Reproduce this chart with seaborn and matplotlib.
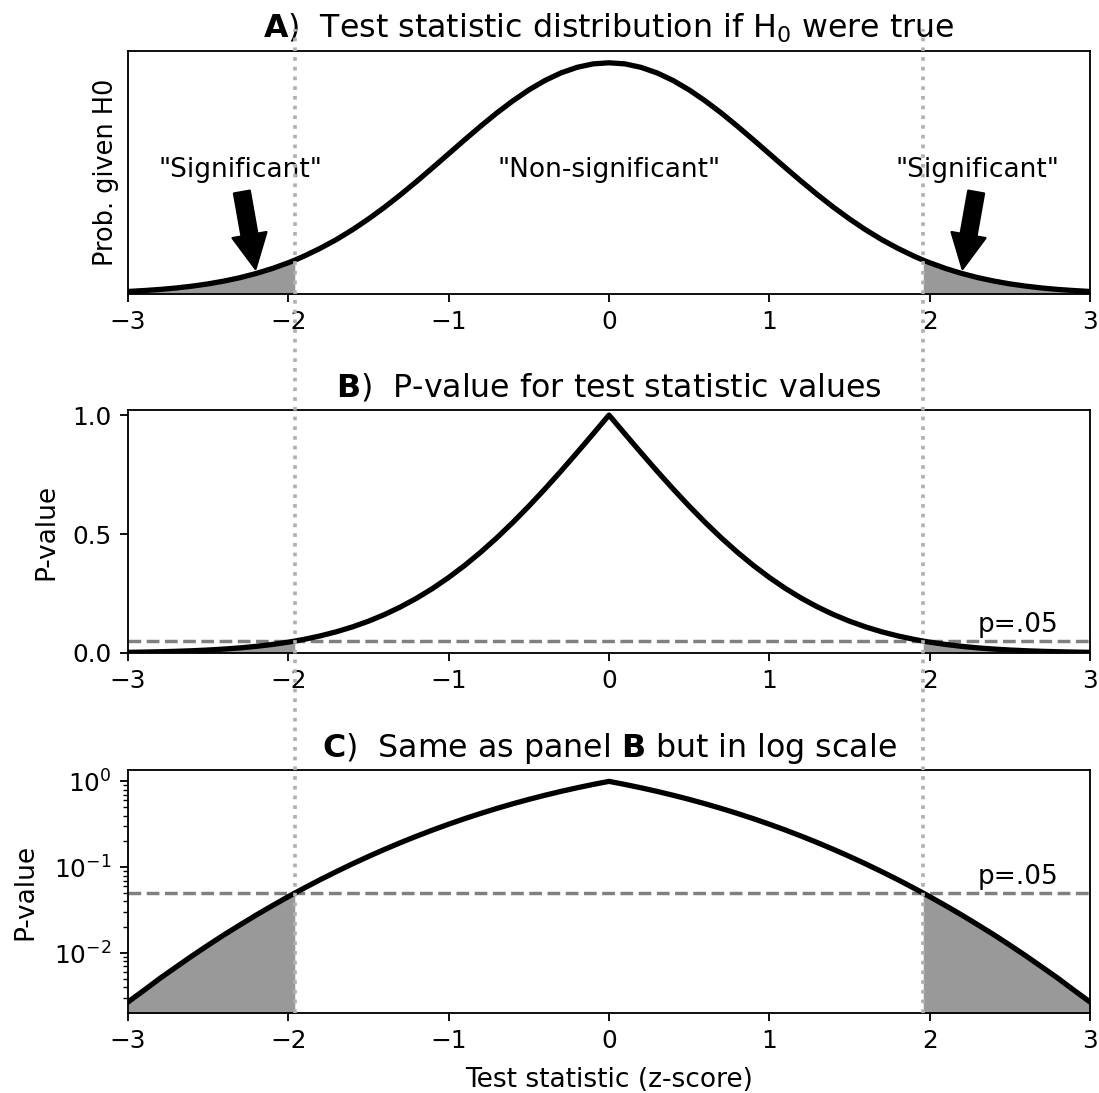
import matplotlib
matplotlib.use("Agg")
import matplotlib.pyplot as plt
import matplotlib.transforms as mtransforms
from matplotlib.lines import Line2D
import seaborn as sns
import pandas as pd
import numpy as np

# ---------------- data ----------------
z_values = [-3.0, -2.9, -2.8, -2.7, -2.6, -2.5, -2.4, -2.3, -2.2, -2.1, -2.0, -1.96,
            -1.9, -1.8, -1.7, -1.6, -1.5, -1.4, -1.3, -1.2, -1.1, -1.0,
            -0.9, -0.8, -0.7, -0.6, -0.5, -0.4, -0.3, -0.2, -0.1, 0.0,
            0.1, 0.2, 0.3, 0.4, 0.5, 0.6, 0.7, 0.8, 0.9, 1.0,
            1.1, 1.2, 1.3, 1.4, 1.5, 1.6, 1.7, 1.8, 1.9, 1.96,
            2.0, 2.1, 2.2, 2.3, 2.4, 2.5, 2.6, 2.7, 2.8, 2.9, 3.0]

density_h0 = [0.0044, 0.0060, 0.0079, 0.0104, 0.0136, 0.0175, 0.0224, 0.0283, 0.0355, 0.0440, 0.0540, 0.0584,
              0.0656, 0.0790, 0.0940, 0.1109, 0.1295, 0.1497, 0.1714, 0.1942, 0.2179, 0.2420,
              0.2661, 0.2897, 0.3123, 0.3332, 0.3521, 0.3683, 0.3814, 0.3910, 0.3970, 0.3989,
              0.3970, 0.3910, 0.3814, 0.3683, 0.3521, 0.3332, 0.3123, 0.2897, 0.2661, 0.2420,
              0.2179, 0.1942, 0.1714, 0.1497, 0.1295, 0.1109, 0.0940, 0.0790, 0.0656, 0.0584,
              0.0540, 0.0440, 0.0355, 0.0283, 0.0224, 0.0175, 0.0136, 0.0104, 0.0079, 0.0060, 0.0044]

p_values = [0.0027, 0.0037, 0.0051, 0.0069, 0.0093, 0.0124, 0.0164, 0.0214, 0.0278, 0.0357, 0.0455, 0.0500,
            0.0574, 0.0719, 0.0891, 0.1096, 0.1336, 0.1615, 0.1936, 0.2301, 0.2713, 0.3173,
            0.3681, 0.4237, 0.4839, 0.5485, 0.6171, 0.6892, 0.7642, 0.8415, 0.9203, 1.0000,
            0.9203, 0.8415, 0.7642, 0.6892, 0.6171, 0.5485, 0.4839, 0.4237, 0.3681, 0.3173,
            0.2713, 0.2301, 0.1936, 0.1615, 0.1336, 0.1096, 0.0891, 0.0719, 0.0574, 0.0500,
            0.0455, 0.0357, 0.0278, 0.0214, 0.0164, 0.0124, 0.0093, 0.0069, 0.0051, 0.0037, 0.0027]

critical_z = 1.96
alpha = 0.05
arrow_z = [-2.2, 2.2]
x_ticks = [-3, -2, -1, 0, 1, 2, 3]

df = pd.DataFrame({"z": z_values, "pdf": density_h0, "p": p_values})
z = df["z"].to_numpy()
left = z <= -critical_z + 1e-9
right = z >= critical_z - 1e-9

# ---------------- figure ----------------
DPI = 165
plt.rcParams["xtick.labelsize"] = 10.8
plt.rcParams["ytick.labelsize"] = 10.8
fig = plt.figure(figsize=(1099 / DPI, 1093 / DPI), dpi=DPI)
fig.patch.set_facecolor("white")

L, W, H = 0.1165, 0.8753, 0.222
axA = fig.add_axes([L, 0.731, W, H])
axB = fig.add_axes([L, 0.4026, W, H])
axC = fig.add_axes([L, 0.0732, W, H])

curve_kw = dict(color="black", linewidth=2.3)
fill_color = "#999999"
title_fs = 13.8
label_fs = 11.5
note_fs = 11.5

# ---- Panel A ----
for m in (left, right):
    axA.fill_between(z[m], 0, df["pdf"].to_numpy()[m], color=fill_color, linewidth=0, zorder=1)
sns.lineplot(data=df, x="z", y="pdf", ax=axA, zorder=3, **curve_kw)
axA.set_xlim(-3, 3)
axA.set_ylim(0, 0.4186)
axA.set_yticks([])
axA.set_xticks(x_ticks)
axA.set_xlabel("")
axA.set_ylabel("Prob. given H0", fontsize=11.2)
axA.set_title(r"$\bf{A}$)  Test statistic distribution if H$_0$ were true", fontsize=title_fs)

arrow_props = dict(facecolor="black", edgecolor="black", width=7, headwidth=15,
                   headlength=15, shrink=0.05)
pdf_at = dict(zip(z_values, density_h0))
axA.annotate('"Significant"', xy=(arrow_z[0], pdf_at[arrow_z[0]]), xytext=(-2.3, 0.214),
             ha="center", va="center", fontsize=note_fs, arrowprops=arrow_props)
axA.annotate('"Significant"', xy=(arrow_z[1], pdf_at[arrow_z[1]]), xytext=(2.3, 0.214),
             ha="center", va="center", fontsize=note_fs, arrowprops=arrow_props)
axA.text(0, 0.214, '"Non-significant"', ha="center", va="center", fontsize=note_fs)

# ---- Panel B ----
for m in (left, right):
    axB.fill_between(z[m], 0, df["p"].to_numpy()[m], color=fill_color, linewidth=0, zorder=1)
sns.lineplot(data=df, x="z", y="p", ax=axB, zorder=3, **curve_kw)
axB.axhline(alpha, color="gray", linestyle="--", linewidth=1.5, zorder=2)
axB.annotate("p=.05", xy=(2.3, alpha), xytext=(0, 1.5), textcoords="offset points",
             ha="left", va="bottom", fontsize=note_fs)
axB.set_xlim(-3, 3)
axB.set_ylim(0, 1.02)
axB.set_yticks([0.0, 0.5, 1.0])
axB.set_xticks(x_ticks)
axB.set_xlabel("")
axB.set_ylabel("P-value", fontsize=label_fs, labelpad=6)
axB.set_title(r"$\bf{B}$)  P-value for test statistic values", fontsize=title_fs)

# ---- Panel C ----
axC.set_yscale("log")
c_bottom, c_top = 0.00201, 1.344
for m in (left, right):
    axC.fill_between(z[m], 1e-6, df["p"].to_numpy()[m], color=fill_color, linewidth=0, zorder=1)
sns.lineplot(data=df, x="z", y="p", ax=axC, zorder=3, **curve_kw)
axC.axhline(alpha, color="gray", linestyle="--", linewidth=1.5, zorder=2)
axC.annotate("p=.05", xy=(2.3, alpha), xytext=(0, 1.5), textcoords="offset points",
             ha="left", va="bottom", fontsize=note_fs)
axC.set_xlim(-3, 3)
axC.set_ylim(c_bottom, c_top)
axC.set_xticks(x_ticks)
axC.set_xlabel("Test statistic (z-score)", fontsize=label_fs, labelpad=6)
axC.set_ylabel("P-value", fontsize=label_fs, labelpad=7)
axC.set_title(r"$\bf{C}$)  Same as panel $\bf{B}$ but in log scale", fontsize=title_fs)

for ax in (axA, axB, axC):
    ax.set_xticklabels([("\u2212" if t < 0 else "") + str(abs(t)) for t in x_ticks])

# ---- vertical dotted critical lines across all panels ----
trans = mtransforms.blended_transform_factory(axC.transData, fig.transFigure)
for xc in (-critical_z, critical_z):
    ln = Line2D([xc, xc], [0.0732, 0.9735], transform=trans, color="#b0b0b0",
                linestyle=":", linewidth=1.6, zorder=10)
    fig.add_artist(ln)

fig.savefig("out.png", dpi=DPI, facecolor="white")
